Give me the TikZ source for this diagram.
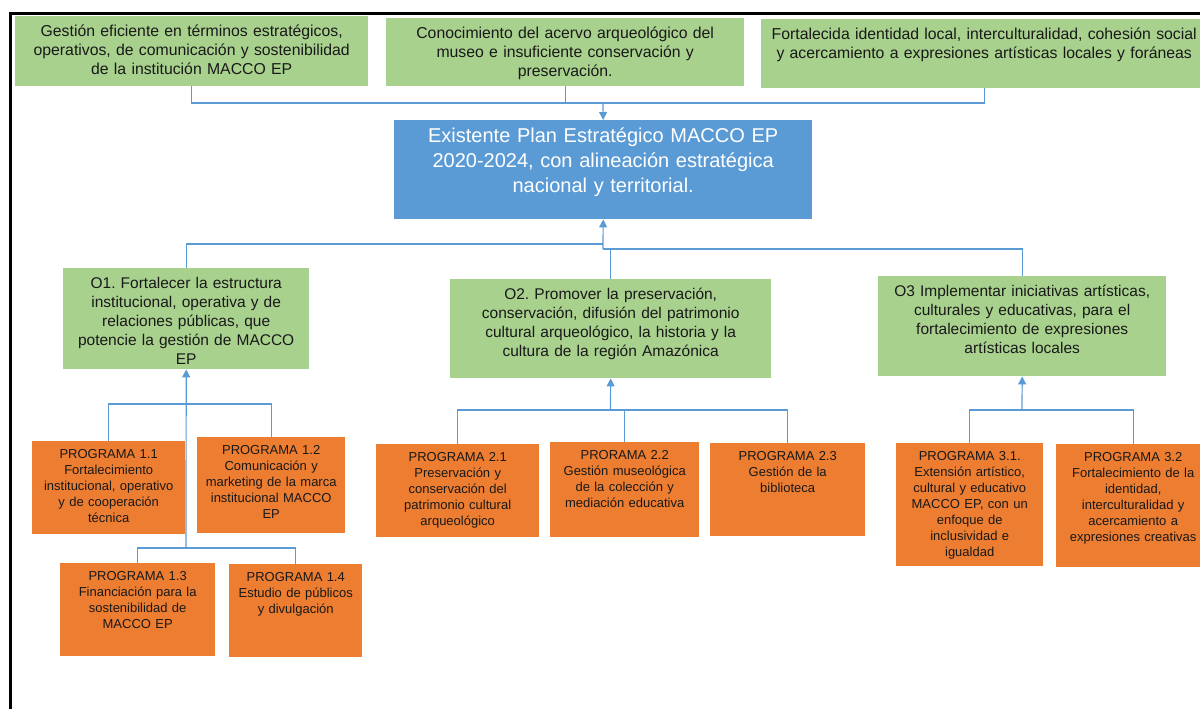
\documentclass[tikz,border=0pt]{standalone}
\usepackage{fontspec}
\setmainfont{Liberation Sans}
\usepackage{tikz}
\usetikzlibrary{arrows.meta}
\definecolor{boxgreen}{HTML}{A9D18E}
\definecolor{boxblue}{HTML}{5B9BD5}
\definecolor{boxorange}{HTML}{ED7D31}
\definecolor{linkblue}{HTML}{5B9BD5}
\frenchspacing
\tikzset{
  link/.style={draw=linkblue, line width=1.2pt},
  arr/.style={link, -{Triangle[width=8pt,length=8pt]}},
  dim/.style 2 args={text width=#1, text depth=#2},
  card/.style={anchor=north west, inner sep=0pt, align=center, text=black!90},
  goal/.style={card, fill=boxgreen, font=\fontsize{15.8}{19}\selectfont, text height=20pt},
  plan/.style={card, fill=boxblue, text=white, font=\fontsize{20}{25}\selectfont, text height=22pt},
  obj/.style={card, fill=boxgreen, font=\fontsize{15.5}{19}\selectfont, text height=20pt},
  prog/.style={card, fill=boxorange, font=\fontsize{13}{16}\selectfont, text height=17pt},
  }

\begin{document}
\begin{tikzpicture}[x=1pt, y=-1pt]
  \useasboundingbox (0,0) rectangle (1200,709);

  % frame
  \draw[line width=3pt] (9,13.5) -- (1200,13.5);
  \draw[line width=3pt] (10.5,12) -- (10.5,709);

  % results
  \node[goal,dim={353pt}{50pt}] (t1) at (15,16)
    {Gestión eficiente en términos estratégicos,\\ operativos, de comunicación y sostenibilidad\\ de la institución MACCO EP};
  \node[goal,dim={358pt}{48pt}] (t2) at (386,18)
    {Conocimiento del acervo arqueológico del\\ museo e insuficiente conservación y\\ preservación.};
  \node[goal,dim={446pt}{49pt}] (t3) at (761,19)
    {Fortalecida identidad local, interculturalidad, cohesión social\\ y acercamiento a expresiones artísticas locales y foráneas};

  % plan
  \node[plan,dim={418pt}{77pt}] (main) at (394,120)
    {Existente Plan Estratégico MACCO EP\\ 2020-2024, con alineación estratégica\\ nacional y territorial.};

  % objectives
  \node[obj,dim={246pt}{81pt}] (o1) at (63,268)
    {O1. Fortalecer la estructura\\ institucional, operativa y de\\ relaciones públicas, que\\ potencie la gestión de MACCO\\ EP};
  \node[obj,dim={321pt}{79pt}] (o2) at (450,279)
    {O2. Promover la preservación,\\ conservación, difusión del patrimonio\\ cultural arqueológico, la historia y la\\ cultura de la región Amazónica};
  \node[obj,dim={288pt}{80pt}] (o3) at (878,276)
    {O3 Implementar iniciativas artísticas,\\ culturales y educativas, para el\\ fortalecimiento de expresiones\\ artísticas locales};

  % programmes
  \node[prog,dim={153pt}{76pt}] (p11) at (32,441)
    {PROGRAMA 1.1\\ Fortalecimiento\\ institucional, operativo\\ y de cooperación\\ técnica};
  \node[prog,dim={148pt}{79pt}] (p12) at (197,437)
    {PROGRAMA 1.2\\ Comunicación y\\ marketing de la marca\\ institucional MACCO\\ EP};
  \node[prog,dim={155pt}{76pt}] (p13) at (60,563)
    {PROGRAMA 1.3\\ Financiación para la\\ sostenibilidad de\\ MACCO EP};
  \node[prog,dim={133pt}{76pt}] (p14) at (229,564)
    {PROGRAMA 1.4\\ Estudio de públicos\\ y divulgación};
  \node[prog,dim={163pt}{76pt}] (p21) at (376,444)
    {PROGRAMA 2.1\\ Preservación y\\ conservación del\\ patrimonio cultural\\ arqueológico};
  \node[prog,dim={149pt}{78pt}] (p22) at (550,442)
    {PRORAMA 2.2\\ Gestión museológica\\ de la colección y\\ mediación educativa};
  \node[prog,dim={155pt}{76pt}] (p23) at (710,443)
    {PROGRAMA 2.3\\ Gestión de la\\ biblioteca};
  \node[prog,dim={147pt}{106pt}] (p31) at (896,443)
    {PROGRAMA 3.1.\\ Extensión artístico,\\ cultural y educativo\\ MACCO EP, con un\\ enfoque de\\ inclusividad e\\ igualdad};
  \node[prog,dim={154pt}{106pt}] (p32) at (1056,444)
    {PROGRAMA 3.2\\ Fortalecimiento de la\\ identidad,\\ interculturalidad y\\ acercamiento a\\ expresiones creativas};

  % results -> plan
  \coordinate (topbus) at (603,103);
  \draw[link] (t1.south) |- (topbus);
  \draw[link] (t2.south) |- (topbus);
  \draw[link] (t3.south) |- (topbus);
  \draw[arr] (topbus) -- (main.north);

  % objectives -> plan
  \coordinate (busl) at (603,244);
  \coordinate (busr) at (603,249);
  \draw[link] (o1.north) |- (busl);
  \draw[link] (o2.north) |- (busr);
  \draw[link] (o3.north) |- (busr);
  \draw[arr] (busr) -- (main.south);

  % programmes -> objectives
  \coordinate (b11) at (186,404);
  \coordinate (b13) at (186,548);
  \draw[link] (p11.north) |- (b11);
  \draw[link] (p12.north) |- (b11);
  \draw[link] (p13.north) |- (b13);
  \draw[link] (p14.north) |- (b13);
  \draw[arr] (b13) -- (o1.south);

  \coordinate (b2) at (610.5,410);
  \draw[link] (p21.north) |- (b2);
  \draw[link] (p22.north) |- (b2);
  \draw[link] (p23.north) |- (b2);
  \draw[arr] (b2) -- (o2.south);

  \coordinate (b3) at (1022,410);
  \draw[link] (p31.north) |- (b3);
  \draw[link] (p32.north) |- (b3);
  \draw[arr] (b3) -- (o3.south);
\end{tikzpicture}
\end{document}
